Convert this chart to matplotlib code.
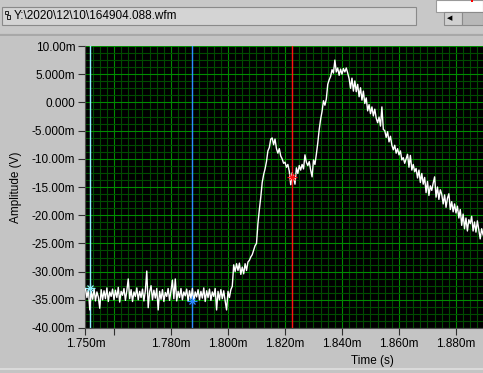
import matplotlib.pyplot as plt
import numpy as np
from matplotlib.patches import Rectangle

# waveform: start time and sample spacing in ms, amplitude samples in mV
t0 = 1.750
dt = 0.0005
amplitude = [
    -33.0, -34.6, -33.2, -36.8, -33.5, -34.9, -33.0, -35.2, -33.6, -34.5,
    -36.5, -33.2, -35.0, -33.4, -34.8, -32.9, -35.3, -33.6, -34.4, -33.1,
    -35.0, -33.3, -34.6, -32.8, -35.4, -33.5, -34.2, -33.0, -35.1, -33.4,
    -31.3, -34.8, -33.2, -35.3, -33.6, -34.4, -32.9, -35.0, -33.5, -34.6,
    -33.1, -35.2, -33.4, -29.9, -36.4, -33.6, -32.5, -35.0, -33.3, -34.7,
    -33.0, -36.8, -33.5, -34.9, -33.2, -35.3, -33.7, -34.4, -33.0, -35.1,
    -33.4, -31.5, -34.8, -31.3, -35.2, -33.5, -34.6, -33.0, -35.0, -33.6,
    -34.3, -33.1, -35.2, -33.4, -34.8, -33.0, -35.4, -33.6, -34.5, -33.2,
    -35.0, -33.5, -34.7, -32.9, -35.3, -33.4, -34.6, -33.1, -35.1, -33.6,
    -34.4, -33.0, -36.8, -33.5, -35.0, -33.2, -34.8, -33.4, -35.2, -36.8,
    -33.5, -34.6, -33.2, -32.6, -28.8, -30.0, -28.6, -29.8, -28.5, -30.5,
    -29.2, -30.4, -28.6, -29.8, -28.3, -28.0, -27.4, -27.0, -26.2, -25.4,
    -25.0, -21.5, -19.0, -16.8, -14.2, -12.8, -11.8, -10.5, -8.6, -8.0,
    -6.5, -6.3, -7.5, -6.5, -8.2, -9.0, -8.2, -9.5, -10.0, -10.8,
    -10.6, -11.5, -11.0, -12.2, -14.6, -12.5, -13.2, -14.5, -11.6, -12.6,
    -11.2, -12.0, -11.0, -11.8, -9.3, -10.6, -11.2, -10.5, -12.0, -13.2,
    -10.2, -11.0, -9.2, -7.2, -4.8, -3.0, -1.6, 0.3, -0.5, 0.6,
    3.2, 4.0, 4.6, 5.8, 5.2, 7.5, 5.4, 6.1, 4.8, 5.9,
    5.0, 6.0, 5.4, 6.1, 5.2, 4.2, 2.5, 4.3, 2.0, 3.8,
    1.9, 3.2, 1.0, 2.6, 0.4, 2.0, -0.2, 0.8, -1.5, -0.4,
    -2.0, -0.8, -2.4, -1.2, -2.8, -3.6, -2.6, -4.2, -0.8, -4.8,
    -5.0, -6.2, -5.2, -7.0, -6.0, -7.6, -8.4, -7.6, -9.0, -8.2,
    -9.3, -8.6, -10.2, -9.8, -10.8, -10.0, -9.2, -11.5, -9.4, -12.0,
    -11.0, -12.3, -11.7, -13.4, -12.0, -14.2, -12.6, -14.5, -13.3, -16.0,
    -14.0, -16.5, -14.8, -15.6, -14.3, -13.2, -16.8, -15.0, -17.2, -15.5,
    -16.3, -18.0, -16.4, -18.6, -17.0, -16.2, -19.0, -17.6, -19.4, -18.0,
    -19.6, -18.4, -20.5, -19.0, -21.8, -19.8, -22.4, -20.5, -22.8, -20.8,
    -21.5, -20.2, -22.8, -21.2, -23.0, -21.0, -22.6, -24.2, -22.4, -23.5,
]

x_ticks = [1.750, 1.760, 1.780, 1.800, 1.820, 1.840, 1.860, 1.880]
x_labels = ["1.750m", "", "1.780m", "1.800m", "1.820m", "1.840m", "1.860m", "1.880m"]
y_ticks = [10, 5, 0, -5, -10, -15, -20, -25, -30, -35, -40]
y_labels = ["10.00m", "5.000m", "0.000", "-5.000m", "-10.00m", "-15.00m",
            "-20.00m", "-25.00m", "-30.00m", "-35.00m", "-40.00m"]

# cursors: (time, amplitude, colour)
cursors = [(1.75158, -32.9, "#8cf0ff"), (1.78737, -35.2, "#2a8cff"), (1.82236, -13.2, "#ff1010")]

panel = "#c4c4c4"
plt.rcParams["font.family"] = ["Liberation Sans", "DejaVu Sans"]

fig = plt.figure(figsize=(4.83, 3.73), dpi=100, facecolor=panel)
W, H = 483, 373


def box(x, y, w, h, **kw):
    # rectangle in pixel coordinates from the top-left
    fig.patches.append(Rectangle((x / W, 1 - (y + h) / H), w / W, h / H,
                                 transform=fig.transFigure, **kw))


# top bar with the path control and the cut-off widget on the right
box(0, 0, 483, 33, facecolor="#c8c8c8", edgecolor="none")
box(2, 7, 414, 18, facecolor="#d4d4d4", edgecolor="#8a8a8a", lw=0.8)
box(5, 11, 3, 3, facecolor="none", edgecolor="#222222", lw=0.7)
box(7, 15, 3, 4, facecolor="none", edgecolor="#222222", lw=0.7)
box(436, 0, 47, 12, facecolor="white", edgecolor="#9a9a9a", lw=0.8)
box(471, 0, 1.5, 2, facecolor="red", edgecolor="none")
box(444, 12, 18, 13, facecolor="#d0d0d0", edgecolor="#8a8a8a", lw=0.8)
box(462, 12, 21, 13, facecolor="#b8b8b8", edgecolor="#8a8a8a", lw=0.8)
box(0, 34, 483, 2, facecolor="#a8a8a8", edgecolor="none")
box(0, 368, 483, 2, facecolor="#dadada", edgecolor="none")
fig.text(14 / W, 1 - 16 / H, "Y:\\2020\\12\\10\\164904.088.wfm", fontsize=8.5,
         va="center", ha="left", color="black")
fig.text(447 / W, 1 - 18.5 / H, "\u25c0", fontsize=5, va="center", ha="left",
         family=["DejaVu Sans"], color="black")

ax = fig.add_axes([85 / W, 45 / H, 398 / W, 282 / H])
ax.set_facecolor("black")

t = t0 + dt * np.arange(len(amplitude))
ax.plot(t, amplitude, color="white", lw=1.0, zorder=3)

for ct, cv, cc in cursors:
    ax.axvline(ct, color=cc, lw=1.0, zorder=2)
    ax.plot(ct, cv, marker="+", ms=7, mew=0.9, color=cc, zorder=4)
    ax.plot(ct, cv, marker="x", ms=5, mew=0.9, color=cc, zorder=4)

px = 0.02 / 57
ax.set_xlim(1.750 - 0.5 * px, 1.750 + 397.5 * px)
ax.set_ylim(-40, 10)

ax.set_xticks(x_ticks)
ax.set_xticklabels(x_labels)
ax.set_yticks(y_ticks)
ax.set_yticklabels(y_labels)
ax.set_xticks(np.arange(1.7525, 1.89, 0.0025), minor=True)
ax.set_yticks(np.arange(-38.75, 10, 1.25), minor=True)

ax.grid(which="minor", color="#004c00", lw=0.8)
ax.xaxis.grid(True, which="major", color="#008c00", lw=0.8)
ax.yaxis.grid(True, which="major", color="#008c00", lw=0.8)
ax.set_axisbelow(True)

ax.tick_params(which="major", length=5, width=0.8, color="#303030",
               labelsize=8.5, labelcolor="black", pad=2)
ax.tick_params(which="minor", length=0)

for side in ["top", "right"]:
    ax.spines[side].set_visible(False)
for side in ["left", "bottom"]:
    ax.spines[side].set_color("#505050")

ax.set_ylabel("Amplitude (V)", fontsize=8.5)
ax.yaxis.set_label_coords(-63 / 398, 0.5)
ax.set_xlabel("Time (s)", fontsize=8.5)
ax.xaxis.set_label_coords((372 - 85) / 398, -27 / 282)

fig.savefig("out.png", dpi=100, facecolor=panel)
